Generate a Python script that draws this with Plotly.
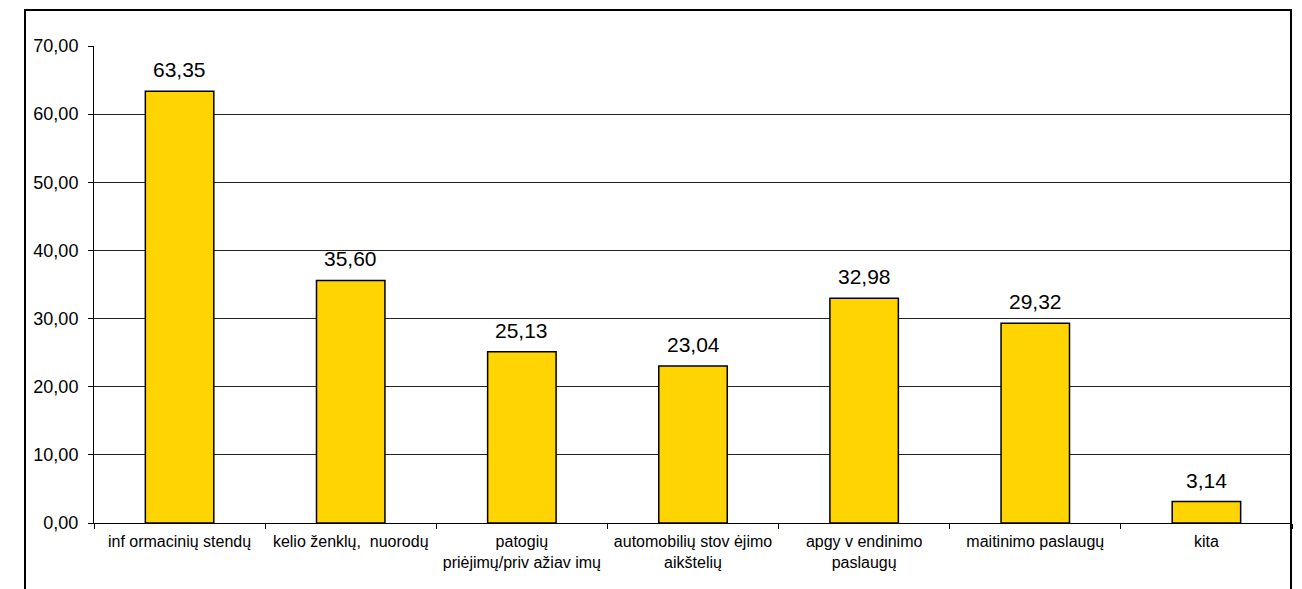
import plotly.graph_objects as go

categories = [
    "inf ormacinių stendų",
    "kelio ženklų,  nuorodų",
    "patogių<br>priėjimų/priv ažiav imų",
    "automobilių stov ėjimo<br>aikštelių",
    "apgy v endinimo<br>paslaugų",
    "maitinimo paslaugų",
    "kita",
]
values = [63.35, 35.60, 25.13, 23.04, 32.98, 29.32, 3.14]
y_ticks = [0, 10, 20, 30, 40, 50, 60, 70]

# page body has an 8px offset; compensate so the plot lands where the reference has it
OFF = 8
W, H = 1302 - OFF, 589 - OFF
L, T = 94 - OFF, 46 - OFF
pw = 1292 - 94
ph = 523 - 46
R = W - L - pw
B = H - T - ph

fig = go.Figure()
fig.add_trace(go.Bar(
    x=categories, y=values,
    marker=dict(color="#FFD400", line=dict(color="black", width=1.5)),
    width=0.4,
    hoverinfo="skip",
))

for c, v in zip(categories, values):
    fig.add_annotation(
        x=c, y=v, text=f"{v:.2f}".replace(".", ","),
        showarrow=False, yanchor="bottom", yshift=8,
        font=dict(family="Arial, Liberation Sans, sans-serif", size=21, color="black"),
    )

# outer frame (page coords: left 25, right 1291, top 10, bottom beyond view)
fig.add_shape(type="rect", xref="paper", yref="paper",
              x0=(25 - 94) / pw, x1=(1291 - 94) / pw,
              y0=-(589 - 523 + 20) / ph, y1=1 + (46 - 10) / ph,
              line=dict(color="black", width=2), fillcolor="rgba(0,0,0,0)", layer="above")

fig.update_layout(
    width=W, height=H,
    margin=dict(l=L, r=R, t=T, b=B, autoexpand=False),
    paper_bgcolor="white", plot_bgcolor="white",
    separators=", ",
    showlegend=False,
    font=dict(family="Arial, Liberation Sans, sans-serif", color="black"),
)
fig.update_yaxes(
    range=[0, 70], tickvals=y_ticks, tickformat=".2f",
    showgrid=True, gridcolor="#222222", gridwidth=1,
    showline=True, linecolor="black", linewidth=1,
    ticks="outside", ticklen=5, tickcolor="black",
    tickfont=dict(size=18), zeroline=False, ticklabelstandoff=6,
)
fig.update_xaxes(
    showline=True, linecolor="black", linewidth=1,
    ticks="outside", ticklen=5, tickcolor="black", tickson="boundaries",
    tickfont=dict(size=16), showgrid=False, ticklabelstandoff=4,
)

fig.write_html("out.html")
